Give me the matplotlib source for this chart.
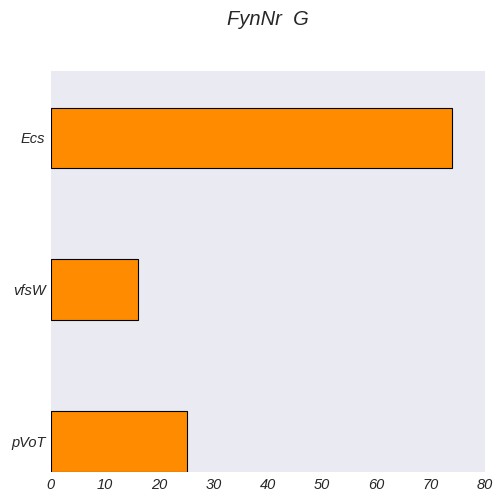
import matplotlib
matplotlib.use("Agg")
import matplotlib.pyplot as plt

categories = ["pVoT", "vfsW", "Ecs"]
values = [25, 16, 74]
xticks = [0, 10, 20, 30, 40, 50, 60, 70, 80]

plt.rcParams['font.family'] = ['Liberation Sans', 'DejaVu Sans']

fig = plt.figure(figsize=(5.04, 5.04), dpi=100)
ax = fig.add_axes([0.101, 0.0635, 0.861, 0.7955])
ax.set_facecolor('#EAEAF2')
ax.barh(range(len(categories)), values, height=0.4, color='#FF8C00', edgecolor='black', linewidth=0.8)
ax.set_yticks(range(len(categories)))
ax.set_yticklabels(categories, fontstyle='italic', fontsize=10.5, color='#262626')
ax.set_xticks(xticks)
ax.set_xticklabels([str(t) for t in xticks], fontstyle='italic', fontsize=10.5, color='#262626')
ax.set_xlim(0, 80)
ax.set_ylim(-0.2, 2.44)
for s in ax.spines.values():
    s.set_visible(False)
ax.tick_params(length=0, pad=4)
fig.text(268 / 504, 0.962, "FynNr  G", fontstyle='italic', fontsize=14.5,
         ha='center', va='center', color='#262626')
fig.savefig("out.png", dpi=100)
